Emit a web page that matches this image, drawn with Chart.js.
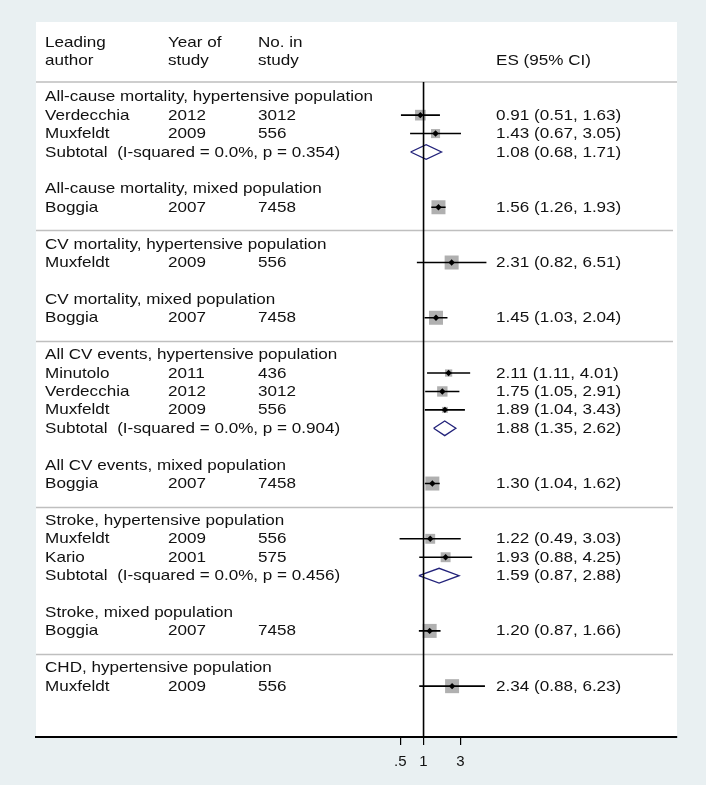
<!DOCTYPE html>
<html>
<head>
<meta charset="utf-8">
<script src="https://cdn.jsdelivr.net/npm/chart.js@4.4.1/dist/chart.umd.min.js"></script>
<style>
  html, body { margin: 0; padding: 0; background: #e9f0f2; }
  #wrap { width: 706px; height: 785px; }
</style>
</head>
<body>
<div id="wrap"><canvas id="forestChart" width="706" height="785"></canvas></div>
<script>
// Filas del forest plot, de arriba abajo
const rowKind = [
  'head', 'study', 'study', 'sub', 'blank', 'head', 'study', 'sep',
  'head', 'study', 'blank', 'head', 'study', 'sep',
  'head', 'study', 'study', 'study', 'sub', 'blank', 'head', 'study', 'sep',
  'head', 'study', 'study', 'sub', 'blank', 'head', 'study', 'sep',
  'head', 'study'
];
const rowLabel = [
  'All-cause mortality, hypertensive population', 'Verdecchia', 'Muxfeldt', 'Subtotal  (I-squared = 0.0%, p = 0.354)', '',
  'All-cause mortality, mixed population', 'Boggia', '',
  'CV mortality, hypertensive population', 'Muxfeldt', '',
  'CV mortality, mixed population', 'Boggia', '',
  'All CV events, hypertensive population', 'Minutolo', 'Verdecchia', 'Muxfeldt', 'Subtotal  (I-squared = 0.0%, p = 0.904)', '',
  'All CV events, mixed population', 'Boggia', '',
  'Stroke, hypertensive population', 'Muxfeldt', 'Kario', 'Subtotal  (I-squared = 0.0%, p = 0.456)', '',
  'Stroke, mixed population', 'Boggia', '',
  'CHD, hypertensive population', 'Muxfeldt'
];
const rowYear = [
  null, 2012, 2009, null, null, null, 2007, null,
  null, 2009, null, null, 2007, null,
  null, 2011, 2012, 2009, null, null, null, 2007, null,
  null, 2009, 2001, null, null, null, 2007, null,
  null, 2009
];
const rowN = [
  null, 3012, 556, null, null, null, 7458, null,
  null, 556, null, null, 7458, null,
  null, 436, 3012, 556, null, null, null, 7458, null,
  null, 556, 575, null, null, null, 7458, null,
  null, 556
];
const rowES = [
  null, 0.91, 1.43, 1.08, null, null, 1.56, null,
  null, 2.31, null, null, 1.45, null,
  null, 2.11, 1.75, 1.89, 1.88, null, null, 1.30, null,
  null, 1.22, 1.93, 1.59, null, null, 1.20, null,
  null, 2.34
];
const rowLow = [
  null, 0.51, 0.67, 0.68, null, null, 1.26, null,
  null, 0.82, null, null, 1.03, null,
  null, 1.11, 1.05, 1.04, 1.35, null, null, 1.04, null,
  null, 0.49, 0.88, 0.87, null, null, 0.87, null,
  null, 0.88
];
const rowHigh = [
  null, 1.63, 3.05, 1.71, null, null, 1.93, null,
  null, 6.51, null, null, 2.04, null,
  null, 4.01, 2.91, 3.43, 2.62, null, null, 1.62, null,
  null, 3.03, 4.25, 2.88, null, null, 1.66, null,
  null, 6.23
];
// Peso (%) de cada estudio dentro de su subgrupo
const rowWeight = [
  null, 58, 42, null, null, null, 100, null,
  null, 100, null, null, 100, null,
  null, 27, 55, 18, null, null, null, 100, null,
  null, 50, 50, null, null, null, 100, null,
  null, 100
];
const headerTop = ['Leading', 'Year of', 'No. in', ''];
const headerBottom = ['author', 'study', 'study', 'ES (95% CI)'];
const tickValues = [0.5, 1, 3];
const tickLabels = ['.5', '1', '3'];

// Escalas y estilo
const X_MIN = 9.7e-6, X_MAX = 1900;
const Y_MIN = -0.8, Y_MAX = 34.76;
const FONT = '"Liberation Sans", Arial, sans-serif';
const TEXT_SIZE = 14.6, TEXT_STRETCH = 1.17;
const COL_X = [45, 168, 258, 496];

const squares = [], dots = [], ciLines = [], diamonds = [];
rowKind.forEach((k, i) => {
  if (k === 'study') {
    squares.push({ x: rowES[i], y: i });
    dots.push({ x: rowES[i], y: i });
    ciLines.push({ x: rowLow[i], y: i }, { x: rowHigh[i], y: i }, { x: null, y: null });
  } else if (k === 'sub') {
    diamonds.push(
      { x: rowLow[i], y: i }, { x: rowES[i], y: i - 0.4 },
      { x: rowHigh[i], y: i }, { x: rowES[i], y: i + 0.4 },
      { x: rowLow[i], y: i }, { x: null, y: null }
    );
  }
});
const squareRadius = rowKind
  .map((k, i) => k === 'study' ? 1.4 * Math.sqrt(rowWeight[i]) / Math.SQRT2 : null)
  .filter(r => r !== null);

function stretchText(ctx, str, x, y) {
  ctx.save();
  ctx.translate(x, y);
  ctx.scale(TEXT_STRETCH, 1);
  ctx.fillText(str, 0, 0);
  ctx.restore();
}

const fondoPlugin = {
  id: 'fondo',
  beforeDraw(chart) {
    const { ctx, chartArea } = chart;
    ctx.save();
    ctx.fillStyle = '#e9f0f2';
    ctx.fillRect(0, 0, chart.width, chart.height);
    ctx.fillStyle = '#ffffff';
    ctx.fillRect(chartArea.left, 22, chartArea.right - chartArea.left, chartArea.bottom - 22);
    // línea bajo la cabecera y separadores de grupo
    const y = chart.scales.y;
    ctx.strokeStyle = '#bfbfbf';
    ctx.lineWidth = 1.5;
    ctx.beginPath();
    ctx.moveTo(chartArea.left, chartArea.top);
    ctx.lineTo(chartArea.right, chartArea.top);
    rowKind.forEach((k, i) => {
      if (k !== 'sep') return;
      const py = Math.round(y.getPixelForValue(i + 0.25)) + 0.5;
      ctx.moveTo(chartArea.left, py);
      ctx.lineTo(chartArea.right - 4, py);
    });
    ctx.stroke();
    ctx.restore();
  }
};

const textoPlugin = {
  id: 'texto',
  afterDatasetsDraw(chart) {
    const { ctx } = chart;
    const y = chart.scales.y;
    ctx.save();
    ctx.font = TEXT_SIZE + 'px ' + FONT;
    ctx.fillStyle = '#111111';
    ctx.textBaseline = 'middle';
    ctx.textAlign = 'left';
    headerTop.forEach((t, c) => { if (t) stretchText(ctx, t, COL_X[c], y.getPixelForValue(-3) + 1); });
    headerBottom.forEach((t, c) => { if (t) stretchText(ctx, t, COL_X[c], y.getPixelForValue(-2) + 1); });
    rowKind.forEach((k, i) => {
      const py = y.getPixelForValue(i) + 0.5;
      if (rowLabel[i]) stretchText(ctx, rowLabel[i], COL_X[0], py);
      if (rowYear[i] !== null) stretchText(ctx, String(rowYear[i]), COL_X[1], py);
      if (rowN[i] !== null) stretchText(ctx, String(rowN[i]), COL_X[2], py);
      if (rowES[i] !== null) {
        const s = rowES[i].toFixed(2) + ' (' + rowLow[i].toFixed(2) + ', ' + rowHigh[i].toFixed(2) + ')';
        stretchText(ctx, s, COL_X[3], py);
      }
    });
    ctx.restore();
  }
};

new Chart(document.getElementById('forestChart'), {
  type: 'scatter',
  data: {
    datasets: [
      {
        label: 'Estimación',
        data: dots,
        pointStyle: 'rectRot',
        pointRadius: 3.2,
        backgroundColor: '#000',
        borderWidth: 0
      },
      {
        label: 'IC 95%',
        data: ciLines,
        showLine: true,
        spanGaps: false,
        pointRadius: 0,
        borderColor: '#000',
        borderWidth: 1.6
      },
      {
        label: 'Referencia',
        data: [{ x: 1, y: Y_MIN }, { x: 1, y: Y_MAX }],
        showLine: true,
        pointRadius: 0,
        borderColor: '#000',
        borderWidth: 1.6
      },
      {
        label: 'Subtotal',
        data: diamonds,
        showLine: true,
        spanGaps: false,
        pointRadius: 0,
        borderColor: '#22227a',
        borderWidth: 1.3
      },
      {
        label: 'Peso',
        data: squares,
        pointStyle: 'rect',
        pointRadius: squareRadius,
        backgroundColor: '#b0b0b0',
        borderWidth: 0
      }
    ]
  },
  options: {
    responsive: false,
    animation: false,
    events: [],
    layout: { padding: { left: 36, right: 29, top: 82, bottom: 6 } },
    plugins: {
      legend: { display: false },
      tooltip: { enabled: false }
    },
    scales: {
      x: {
        type: 'logarithmic',
        position: 'bottom',
        min: X_MIN,
        max: X_MAX,
        afterBuildTicks: s => { s.ticks = tickValues.map(v => ({ value: v })); },
        ticks: {
          autoSkip: false,
          maxRotation: 0,
          padding: 8,
          color: '#111',
          font: { family: FONT, size: 15 },
          callback: v => {
            const i = tickValues.indexOf(v);
            return i >= 0 ? tickLabels[i] : '';
          }
        },
        grid: { display: true, drawOnChartArea: false, drawTicks: true, tickLength: 8, color: '#000', lineWidth: 1.2 },
        border: { display: true, color: '#000', width: 2 }
      },
      y: {
        type: 'linear',
        display: false,
        reverse: true,
        min: Y_MIN,
        max: Y_MAX
      }
    }
  },
  plugins: [fondoPlugin, textoPlugin]
});
</script>
</body>
</html>
